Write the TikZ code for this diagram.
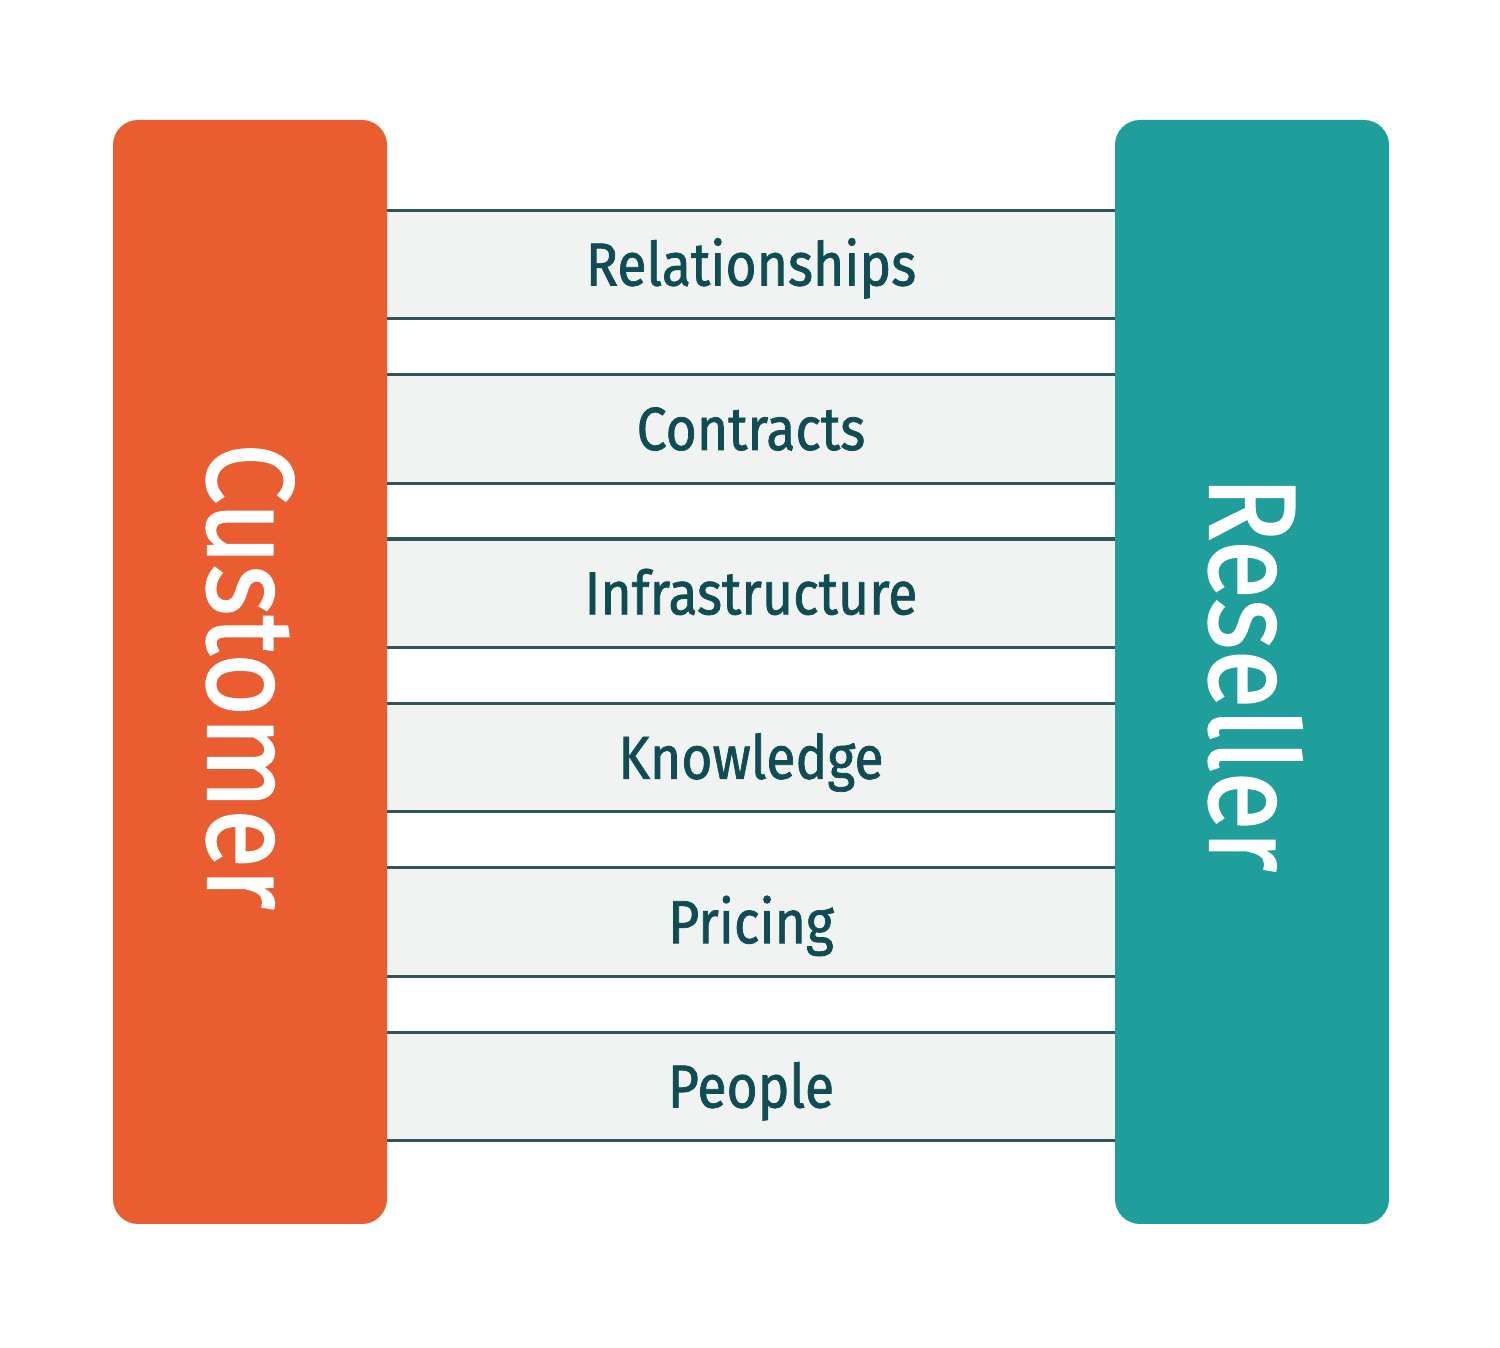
\documentclass[tikz,border=0pt]{standalone}
\usepackage{fontspec}
\setmainfont{Fira Sans}[FakeStretch=0.88,FakeBold=1.6]
\newfontfamily\bandfont{Fira Sans}[FakeStretch=0.88,FakeBold=1.2]
\definecolor{custorange}{HTML}{E95D31}
\definecolor{resteal}{HTML}{1F9E9B}
\definecolor{bandgray}{HTML}{F1F3F2}
\definecolor{bandline}{HTML}{2E5558}
\definecolor{bandtext}{HTML}{104C54}
\tikzset{
  band/.style={fill=bandgray, minimum width=7.28cm, minimum height=1.07cm, inner sep=0pt,
    text=bandtext, font=\bandfont\fontsize{17.3}{17.3}\selectfont, text height=12pt, text depth=0pt},
  bandedge/.style={draw=bandline, line width=0.9pt},
  sidebox/.style={rounded corners=0.25cm, minimum width=2.74cm, minimum height=11.04cm, inner sep=0pt},
  sidelabel/.style={rotate=-90, text=white, font=\fontsize{35}{35}\selectfont, text height=24pt, text depth=0pt, inner sep=0pt}
}
\begin{document}
\begin{tikzpicture}
\useasboundingbox (0,0) rectangle (15,13.48);
% bands between the two parties
\foreach \name/\txt [count=\i] in {rel/Relationships, con/Contracts, inf/Infrastructure, kno/Knowledge, pri/Pricing, peo/People}{
  \node[band] (\name) at (7.51,{10.835-1.644*(\i-1)}) {\txt};
  \draw[bandedge] (\name.north west) -- (\name.north east);
  \draw[bandedge] (\name.south west) -- (\name.south east);
}
% the two parties
\node[sidebox, fill=custorange] (customer) at (2.50,6.76) {};
\node[sidebox, fill=resteal] (reseller) at (12.52,6.76) {};
\node[sidelabel] (customerlabel) at ([yshift=-0.045cm]customer.center) {Customer};
\node[sidelabel] (resellerlabel) at ([yshift=-0.02cm]reseller.center) {Reseller};
\end{tikzpicture}
\end{document}
